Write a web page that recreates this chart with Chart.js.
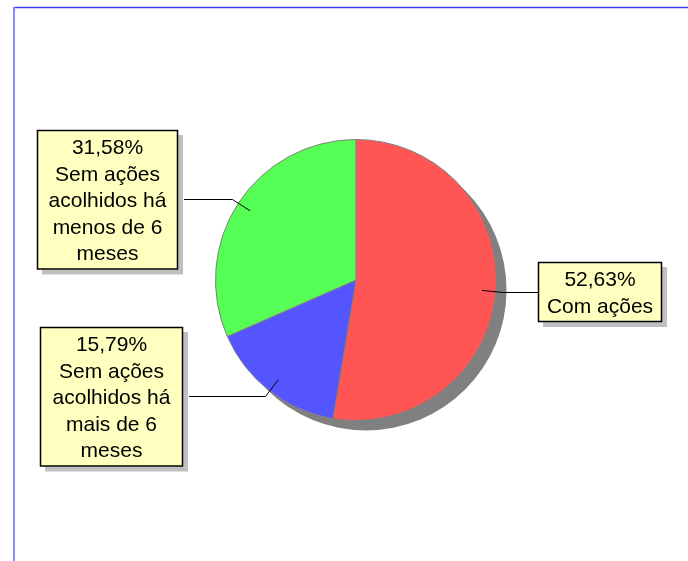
<!DOCTYPE html>
<html>
<head>
<meta charset="utf-8">
<script src="https://cdn.jsdelivr.net/npm/chart.js@4/dist/chart.umd.min.js"></script>
<style>
html,body{margin:0;padding:0;background:#fff;}
canvas{display:block;}
</style>
</head>
<body>
<canvas id="c" width="688" height="561"></canvas>
<script>
const categories = ['Com ações', 'Sem ações acolhidos há mais de 6 meses', 'Sem ações acolhidos há menos de 6 meses'];
const values = [52.63, 15.79, 31.58];
const labelLines = [['Com ações'], ['Sem ações', 'acolhidos há', 'mais de 6', 'meses'], ['Sem ações', 'acolhidos há', 'menos de 6', 'meses']];
const colors = ['#FF5555', '#5555FF', '#55FF55'];

// label box layout: left edge and width
const boxLayout = [
  {left: 538, width: 124},
  {left: 40, width: 143},
  {left: 37, width: 141}
];

const framePlugin = {
  id: 'frame',
  beforeDraw(chart) {
    const ctx = chart.ctx;
    ctx.save();
    ctx.fillStyle = '#fff';
    ctx.fillRect(0, 0, chart.width, chart.height);
    ctx.strokeStyle = '#3C3CEE';
    ctx.lineWidth = 1.5;
    ctx.beginPath();
    ctx.moveTo(14, 7.5); ctx.lineTo(chart.width, 7.5);
    ctx.stroke();
    ctx.strokeStyle = '#8888FF';
    ctx.lineWidth = 2;
    ctx.beginPath();
    ctx.moveTo(14, 7); ctx.lineTo(14, chart.height);
    ctx.stroke();
    ctx.restore();
  }
};

const shadowPlugin = {
  id: 'pieShadow',
  beforeDatasetsDraw(chart) {
    const arc = chart.getDatasetMeta(0).data[0];
    if (!arc) return;
    const ctx = chart.ctx;
    ctx.save();
    ctx.fillStyle = '#808080';
    ctx.beginPath();
    ctx.arc(arc.x + 10, arc.y + 10, arc.outerRadius, 0, Math.PI * 2);
    ctx.fill();
    ctx.restore();
  }
};

const labelPlugin = {
  id: 'calloutLabels',
  afterDatasetsDraw(chart) {
    const ctx = chart.ctx;
    const meta = chart.getDatasetMeta(0);
    const fontSize = 21, lineH = 26.5;
    ctx.save();
    meta.data.forEach((arc, i) => {
      const mid = (arc.startAngle + arc.endAngle) / 2;
      const r = arc.outerRadius;
      const px = arc.x + Math.cos(mid) * r * 0.9;
      const py = arc.y + Math.sin(mid) * r * 0.9;
      const ex = arc.x + Math.cos(mid) * r * 1.05;
      const ey = arc.y + Math.sin(mid) * r * 1.05;
      const lines = [values[i].toFixed(2).replace('.', ',') + '%'].concat(labelLines[i]);
      const bl = boxLayout[i];
      const h = lines.length * lineH + 7;
      const top = Math.round(ey - h / 2);
      const left = bl.left, w = bl.width;
      const onRight = left > arc.x;
      // leader
      ctx.strokeStyle = '#000';
      ctx.lineWidth = 1;
      ctx.beginPath();
      ctx.moveTo(px, py);
      ctx.lineTo(ex, Math.round(ey) + 0.5);
      ctx.lineTo(onRight ? left : left + w + 6, Math.round(ey) + 0.5);
      ctx.stroke();
      // box shadow
      ctx.fillStyle = '#C0C0C0';
      ctx.fillRect(left + 5, top + 5, w, h);
      ctx.fillStyle = '#FFFFC0';
      ctx.fillRect(left, top, w, h);
      ctx.strokeStyle = '#000';
      ctx.lineWidth = 1.5;
      ctx.strokeRect(left + 0.5, top + 0.5, w - 1, h - 1);
      ctx.fillStyle = '#000';
      ctx.font = fontSize + 'px "Liberation Sans", Arial, sans-serif';
      ctx.textAlign = 'center';
      ctx.textBaseline = 'middle';
      lines.forEach((t, k) => {
        ctx.fillText(t, left + w / 2, top + 4 + lineH * (k + 0.5) + 1);
      });
    });
    ctx.restore();
  }
};

new Chart(document.getElementById('c'), {
  type: 'pie',
  data: {
    labels: categories,
    datasets: [{
      data: values,
      backgroundColor: colors,
      borderColor: '#808080',
      borderWidth: 1
    }]
  },
  options: {
    responsive: false,
    devicePixelRatio: 1,
    animation: false,
    layout: {padding: {left: 215, right: 191, top: 139, bottom: 140}},
    plugins: {legend: {display: false}, tooltip: {enabled: false}}
  },
  plugins: [framePlugin, shadowPlugin, labelPlugin]
});
</script>
</body>
</html>
